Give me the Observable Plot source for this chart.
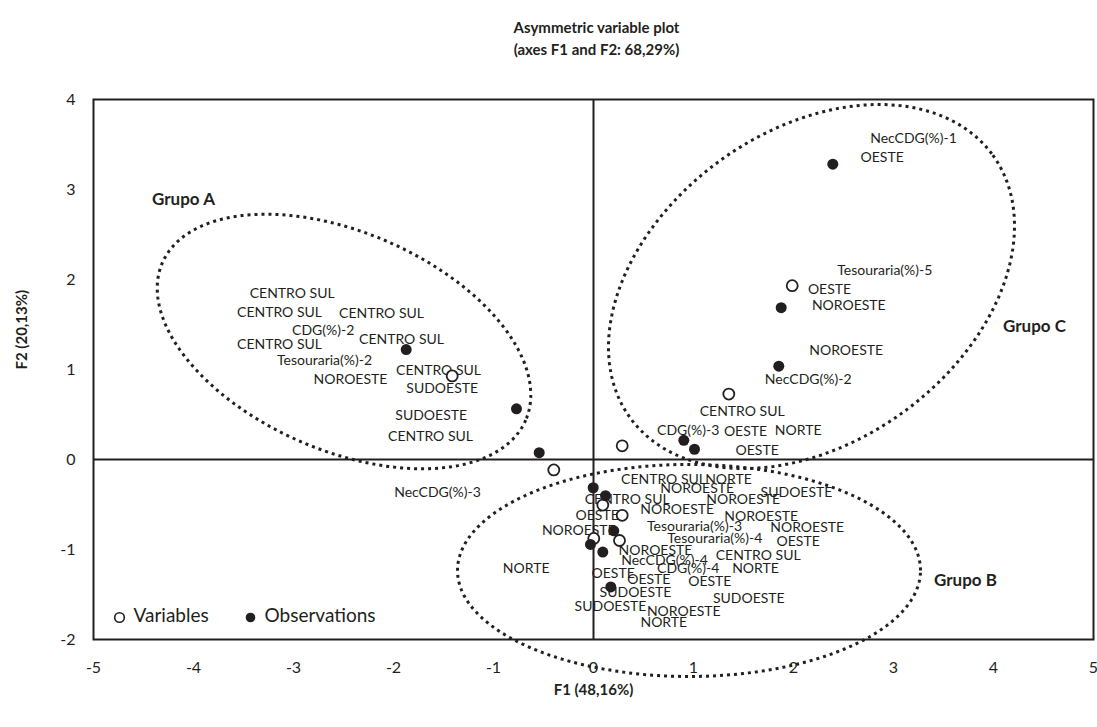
<!DOCTYPE html>
<html><head><meta charset="utf-8">
<script src="https://cdn.jsdelivr.net/npm/d3@7"></script>
<script src="https://cdn.jsdelivr.net/npm/@observablehq/plot@0.6"></script>
<style>body{margin:0;background:#fff;} svg{display:block;}</style>
</head><body><div id="chart"></div>
<script>
// ---- data ----
const xTicks = [-5, -4, -3, -2, -1, 0, 1, 2, 3, 4, 5];
const yTicks = [-2, -1, 0, 1, 2, 3, 4];

// observations (filled dots): [F1, F2]
const observations = [
  [2.393, 3.281], [1.877, 1.687], [1.853, 1.037], [-1.873, 1.222], [-0.77, 0.563],
  [-0.543, 0.076], [0.903, 0.213], [1.01, 0.114], [-0.003, -0.314], [0.12, -0.402],
  [0.203, -0.792], [-0.03, -0.944], [0.093, -1.029], [0.173, -1.416]
];
// variables (open dots): [F1, F2]
const variables = [
  [1.987, 1.931], [1.353, 0.727], [-1.413, 0.929], [0.287, 0.152], [-0.397, -0.116],
  [0.093, -0.506], [0.287, -0.62], [0.003, -0.877], [0.26, -0.9]
];
// variable labels: [text, F1, F2]
const variableLabels = [
  ["NecCDG(%)-1", 3.20, 3.567], ["Tesouraria(%)-5", 2.913, 2.103], ["NecCDG(%)-2", 2.147, 0.891],
  ["CDG(%)-2", -2.703, 1.433], ["Tesouraria(%)-2", -2.69, 1.10], ["CDG(%)-3", 0.947, 0.324],
  ["NecCDG(%)-3", -1.56, -0.371], ["Tesouraria(%)-3", 1.01, -0.742], ["Tesouraria(%)-4", 1.213, -0.877],
  ["NecCDG(%)-4", 0.71, -1.124], ["CDG(%)-4", 0.947, -1.213]
];
// observation labels: [text, F1, F2]
const observationLabels = [
  ["CENTRO SUL", -3.013, 1.841], ["CENTRO SUL", -3.14, 1.633], ["CENTRO SUL", -2.12, 1.626],
  ["CENTRO SUL", -1.92, 1.337], ["CENTRO SUL", -3.14, 1.274], ["NOROESTE", -2.43, 0.889],
  ["CENTRO SUL", -1.55, 0.989], ["SUDOESTE", -1.513, 0.792], ["SUDOESTE", -1.623, 0.489],
  ["CENTRO SUL", -1.63, 0.259],
  ["OESTE", 2.887, 3.358], ["OESTE", 2.36, 1.886], ["NOROESTE", 2.553, 1.713],
  ["NOROESTE", 2.527, 1.208], ["CENTRO SUL", 1.487, 0.528], ["OESTE", 1.52, 0.306],
  ["NORTE", 2.047, 0.317], ["OESTE", 1.637, 0.10],
  ["CENTRO SUL", 0.70, -0.222], ["NORTE", 1.35, -0.222], ["NOROESTE", 1.037, -0.322],
  ["SUDOESTE", 2.03, -0.371], ["CENTRO SUL", 0.337, -0.448], ["NOROESTE", 1.497, -0.448],
  ["NOROESTE", 0.837, -0.551], ["OESTE", 0.037, -0.62], ["NOROESTE", 1.677, -0.628],
  ["NOROESTE", 2.137, -0.761], ["NOROESTE", -0.147, -0.792], ["OESTE", 2.047, -0.914],
  ["NOROESTE", 0.62, -1.014], ["CENTRO SUL", 1.647, -1.067], ["NORTE", 1.62, -1.213],
  ["NORTE", -0.673, -1.213], ["OESTE", 0.197, -1.27], ["OESTE", 0.553, -1.328],
  ["OESTE", 1.163, -1.354], ["SUDOESTE", 0.42, -1.473], ["SUDOESTE", 1.553, -1.55],
  ["SUDOESTE", 0.17, -1.633], ["NOROESTE", 0.903, -1.691], ["NORTE", 0.703, -1.806]
];
// group labels: [text, F1, F2]
const groupLabels = [["Grupo A", -4.10, 2.889], ["Grupo C", 4.41, 1.478], ["Grupo B", 3.72, -1.344]];
// group ellipses: [name, centerF1, centerF2, u1, u2, v1, v2] (conjugate semi-diameters)
const ellipses = [
  ["A", -2.495, 1.311, 1.817, -0.874, -0.433, -1.112],
  ["B", 0.955, -1.233, 2.315, 0, 0, 1.178],
  ["C", 2.18, 1.922, 1.8136, 1.4589, 0.9124, -1.4004]
];
const titleLines = ["Asymmetric variable plot", "(axes F1 and F2: 68,29%)"];
const xTitle = "F1 (48,16%)";
const yTitle = "F2 (20,13%)";
const legendItems = ["Variables", "Observations"];

// ---- build ----
const ink = "#231f20";
const font = "Lato, 'Open Sans', sans-serif";
const obs = observations.map(([x, y]) => ({x, y}));
const vars = variables.map(([x, y]) => ({x, y}));
const labels = [...variableLabels, ...observationLabels].map(([t, x, y]) => ({t, x, y}));
const groups = groupLabels.map(([t, x, y]) => ({t, x, y}));
const ellipsePts = ellipses.flatMap(([g, cx, cy, ux, uy, vx, vy]) => {
  const n = 240, pts = [];
  for (let i = 0; i < n; i++) {
    const t = 2 * Math.PI * i / n;
    pts.push({g, x: cx + ux * Math.cos(t) + vx * Math.sin(t), y: cy + uy * Math.cos(t) + vy * Math.sin(t)});
  }
  return pts;
});

const chart = Plot.plot({
  width: 1097, height: 727,
  marginLeft: 93, marginRight: 4, marginTop: 99, marginBottom: 88,
  style: {fontFamily: font, color: ink, background: "#fff"},
  x: {domain: [-5, 5], ticks: xTicks},
  y: {domain: [-2, 4], ticks: yTicks},
  marks: [
    Plot.axisX(xTicks, {tickSize: 0, tickPadding: 22, fontSize: 16, tickFormat: d => String(d), label: null, fill: ink}),
    Plot.axisY(yTicks, {tickSize: 0, tickPadding: 18, fontSize: 16, tickFormat: d => String(d), label: null, fill: ink}),
    Plot.ruleX([0], {stroke: ink, strokeWidth: 2}),
    Plot.ruleY([0], {stroke: ink, strokeWidth: 2}),
    Plot.frame({stroke: ink, strokeWidth: 2}),
    Plot.line(ellipsePts, {x: "x", y: "y", z: "g", curve: "linear-closed", stroke: ink, strokeWidth: 3, strokeDasharray: "3,4", strokeLinecap: "butt"}),
    Plot.text(labels, {x: "x", y: "y", text: "t", fontSize: 14, fill: ink}),
    Plot.text(groups, {x: "x", y: "y", text: "t", fontSize: 17, fontWeight: "bold", fill: ink}),
    Plot.dot(vars, {x: "x", y: "y", r: 5.5, fill: "white", stroke: ink, strokeWidth: 1.8}),
    Plot.dot(obs, {x: "x", y: "y", r: 5.5, fill: ink, stroke: "none"}),
    // legend
    Plot.dot([0], {frameAnchor: "bottom-left", dx: 26, dy: -22, r: 4.8, fill: "white", stroke: ink, strokeWidth: 1.6}),
    Plot.text([legendItems[0]], {frameAnchor: "bottom-left", dx: 40, dy: -18, textAnchor: "start", fontSize: 19, fill: ink}),
    Plot.dot([0], {frameAnchor: "bottom-left", dx: 157, dy: -22, r: 4.8, fill: ink}),
    Plot.text([legendItems[1]], {frameAnchor: "bottom-left", dx: 171, dy: -18, textAnchor: "start", fontSize: 19, fill: ink}),
    // titles
    Plot.text([titleLines[0]], {frameAnchor: "top", dx: 3, dy: -77, fontSize: 15, fontWeight: "bold", fill: ink}),
    Plot.text([titleLines[1]], {frameAnchor: "top", dx: 3, dy: -55, fontSize: 15, fontWeight: "bold", fill: ink}),
    Plot.text([xTitle], {frameAnchor: "bottom", dy: 55, fontSize: 15, fontWeight: "bold", fill: ink}),
    Plot.text([yTitle], {frameAnchor: "left", dx: -71, rotate: -90, fontSize: 15, fontWeight: "bold", fill: ink})
  ]
});
document.getElementById("chart").appendChild(chart);
</script>
</body></html>
